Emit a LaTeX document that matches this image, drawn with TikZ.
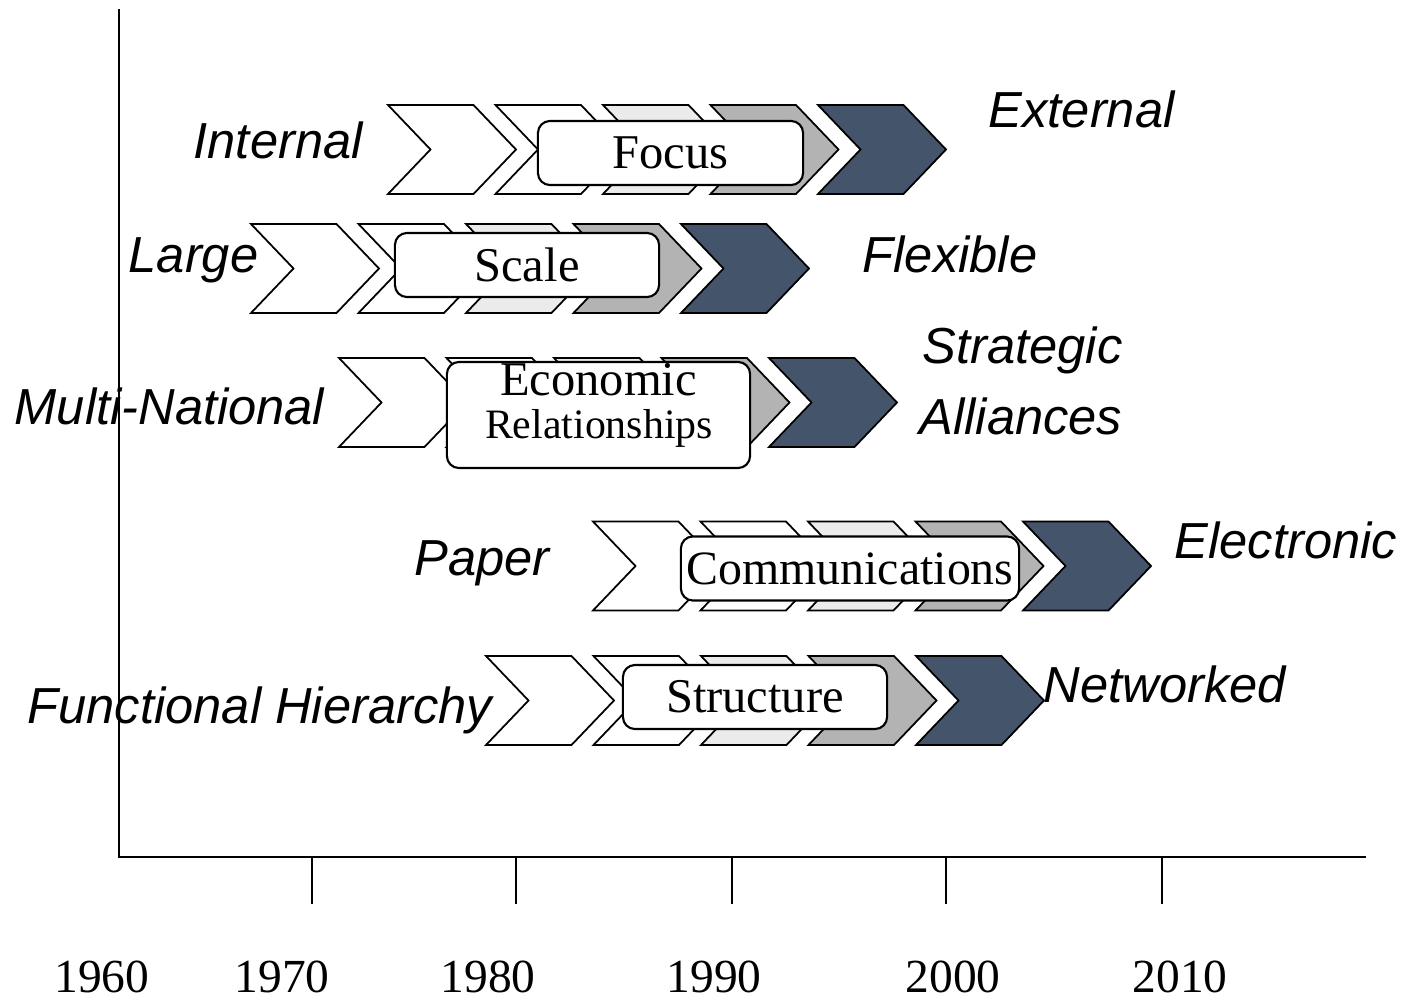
\documentclass[tikz,border=0pt]{standalone}
\usepackage{fontspec}
\setmainfont{Liberation Serif}
\setsansfont{Liberation Sans}
\usepackage{tikz}
\usetikzlibrary{positioning,calc}
\definecolor{lightgrey}{HTML}{EBEBEB}
\definecolor{midgrey}{HTML}{B3B3B3}
\definecolor{slate}{HTML}{44546A}
% one chevron: left x, centre y, fill
\newcommand{\chev}[3]{\draw[chevline, fill=#3] (#1,#2-44.5) -- ++(85.5,0) -- ++(42.5,44.5) -- ++(-42.5,44.5) -- ++(-85.5,0) -- ++(42.5,-44.5) -- cycle;}

\begin{document}
\begin{tikzpicture}[x=0.01cm, y=-0.01cm,
     chevline/.style={draw, line width=0.5pt, line join=miter},
     stagebox/.style={draw, fill=white, rounded corners=1.2mm, line width=0.6pt, inner sep=0pt,
       font=\fontsize{13.8}{16}\selectfont},
     trend/.style={anchor=base west, inner sep=0pt, font=\sffamily\itshape\fontsize{14.4}{17}\selectfont},
     year/.style={anchor=base, inner sep=0pt, font=\fontsize{13.5}{16}\selectfont}]
    \useasboundingbox (0,0) rectangle (1402,1000);
    % axes
    \coordinate (top) at (119,9);
    \coordinate (origin) at (119,857);
    \coordinate (right) at (1366,857);
    \draw[line width=0.6pt] (top) -- (origin) -- (right);
    \foreach \t in {312,516,732,946,1162}
      \draw[line width=0.4pt] (\t,857) -- (\t,904);
    \foreach \y/\cx in {1960/102,1970/282,1980/488,1990/714,2000/953,2010/1180}
      \node[year] (y\y) at (\cx,992) {\y};
    % chevron rows
    \foreach \xs/\yc in {388/149.5, 251/268.5, 339/402.5, 593/566, 486/700.5}
      \foreach \i/\c in {0/white,1/white,2/lightgrey,3/midgrey,4/slate}
        \chev{\xs+\i*107.5}{\yc}{\c};
    % boxes
    \node[stagebox, minimum width=2.65cm, minimum height=0.64cm] (focus) at (670.5,153) {Focus};
    \node[stagebox, minimum width=2.64cm, minimum height=0.64cm] (scale) at (527,265) {Scale};
    \node[stagebox, minimum width=3.03cm, minimum height=1.06cm] (econbox) at (598.5,415) {};
    \node[anchor=base, inner sep=0pt, font=\fontsize{13.8}{16}\selectfont] (econ) at (598.5,395) {Economic};
    \node[anchor=base, inner sep=0pt, font=\fontsize{11.9}{14}\selectfont] (relations) at (599,438) {Relationships};
    \node[stagebox, minimum width=3.38cm, minimum height=0.64cm, font=\fontsize{13.6}{16}\selectfont] (comm) at (850,568.5) {Communications};
    \node[stagebox, minimum width=2.64cm, minimum height=0.64cm] (struct) at (755,697) {Structure};
    % trend labels
    \node[trend] (internal) at (193,158.5) {Internal};
    \node[trend] (external) at (988,127) {External};
    \node[trend] (large) at (128,272) {Large};
    \node[trend] (flexible) at (862,272) {Flexible};
    \node[trend] (multi) at (14,424) {Multi-National};
    \node[trend] (strategic) at (922,363.5) {Strategic};
    \node[trend] (alliances) at (919,434) {Alliances};
    \node[trend] (paper) at (414,575) {Paper};
    \node[trend] (electronic) at (1174,558) {Electronic};
    \node[trend] (functional) at (27,723) {Functional Hierarchy};
    \node[trend] (networked) at (1043,702) {Networked};
\end{tikzpicture}
\end{document}
